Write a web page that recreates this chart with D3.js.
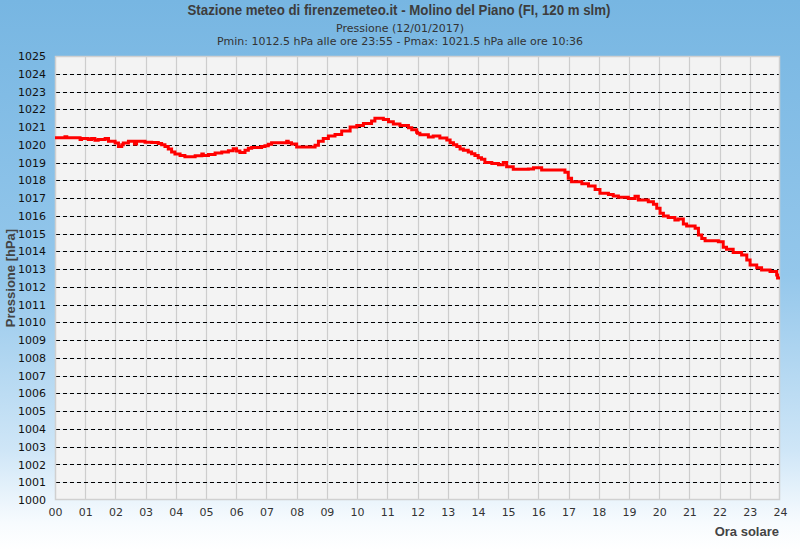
<!DOCTYPE html>
<html><head><meta charset="utf-8">
<script src="https://cdn.jsdelivr.net/npm/d3@7"></script>
<style>
html,body{margin:0;padding:0;background:#fff;}
svg{display:block;}
</style></head>
<body>
<script>
// ---- data ----
const titleText = "Stazione meteo di firenzemeteo.it - Molino del Piano (FI, 120 m slm)";
const subtitleLines = ["Pressione (12/01/2017)", "Pmin: 1012.5 hPa alle ore 23:55 - Pmax: 1021.5 hPa alle ore 10:36"];
const yLabel = "Pressione [hPa]";
const xLabel = "Ora solare";
const xTickLabels = ["00","01","02","03","04","05","06","07","08","09","10","11","12","13","14","15","16","17","18","19","20","21","22","23","24"];
const yTickValues = [1000,1001,1002,1003,1004,1005,1006,1007,1008,1009,1010,1011,1012,1013,1014,1015,1016,1017,1018,1019,1020,1021,1022,1023,1024,1025];
// time of each reading, hours after midnight
const hours = [0.00,0.33,0.39,0.83,0.88,1.10,1.21,1.32,1.43,1.66,1.77,1.99,2.10,2.21,2.26,2.43,2.63,2.70,2.98,3.20,3.42,3.53,3.64,3.75,3.86,3.97,4.14,4.30,4.64,4.86,4.91,5.08,5.30,5.52,5.74,5.90,6.01,6.12,6.29,6.40,6.51,6.84,6.95,7.06,7.17,7.67,7.72,7.83,8.00,8.61,8.72,8.88,9.05,9.27,9.49,9.77,9.99,10.21,10.48,10.59,10.87,11.04,11.20,11.42,11.70,11.81,11.97,12.00,12.08,12.36,12.52,12.74,12.97,13.08,13.19,13.30,13.41,13.52,13.68,13.79,13.90,14.01,14.12,14.23,14.46,14.68,14.84,14.95,15.17,15.67,15.84,16.11,16.88,16.99,17.10,17.44,17.66,17.88,18.04,18.32,18.48,18.65,18.98,19.20,19.31,19.64,19.81,19.92,20.03,20.14,20.30,20.52,20.63,20.80,20.91,21.19,21.30,21.41,21.52,21.96,22.12,22.23,22.45,22.73,22.90,23.01,23.23,23.39,23.67,23.89,23.92,24.00];
// pressure, hPa
const pressure = [1020.40,1020.45,1020.40,1020.30,1020.35,1020.30,1020.35,1020.25,1020.30,1020.35,1020.20,1020.10,1019.90,1020.00,1020.10,1020.20,1020.05,1020.20,1020.15,1020.13,1020.07,1020.00,1019.90,1019.76,1019.60,1019.48,1019.40,1019.33,1019.38,1019.48,1019.40,1019.46,1019.54,1019.60,1019.67,1019.78,1019.65,1019.56,1019.70,1019.80,1019.85,1019.90,1019.95,1020.03,1020.12,1020.20,1020.12,1020.05,1019.87,1019.98,1020.20,1020.36,1020.50,1020.58,1020.78,1021.00,1021.08,1021.20,1021.34,1021.50,1021.42,1021.30,1021.17,1021.08,1020.96,1020.85,1020.70,1020.65,1020.57,1020.44,1020.50,1020.38,1020.27,1020.12,1020.00,1019.90,1019.76,1019.70,1019.60,1019.50,1019.40,1019.27,1019.18,1019.01,1018.95,1018.88,1019.00,1018.77,1018.62,1018.64,1018.71,1018.58,1018.45,1018.11,1017.92,1017.80,1017.68,1017.49,1017.27,1017.20,1017.12,1017.05,1016.97,1017.10,1016.89,1016.80,1016.65,1016.43,1016.14,1015.99,1015.90,1015.77,1015.82,1015.54,1015.43,1015.30,1014.92,1014.73,1014.60,1014.54,1014.23,1014.12,1013.93,1013.80,1013.51,1013.23,1013.08,1012.95,1012.86,1012.67,1012.50,1012.50];

// ---- layout ----
const W = 800, H = 550;
const L = 55, R = 780, T = 56, B = 500;

const svg = d3.select("body").append("svg").attr("width", W).attr("height", H);
const defs = svg.append("defs");
const grad = defs.append("linearGradient").attr("id","bg").attr("x1",0).attr("y1",0).attr("x2",0).attr("y2",1);
[[0,"#77b6e2"],[0.5,"#94c7eb"],[0.82,"#cfe6f7"],[0.95,"#f7fbfe"],[1,"#ffffff"]].forEach(s=>grad.append("stop").attr("offset",s[0]).attr("stop-color",s[1]));
svg.append("rect").attr("width",W).attr("height",H).attr("fill","url(#bg)");

const x = d3.scaleLinear().domain([0,24]).range([L,R]);
const y = d3.scaleLinear().domain([1000,1025]).range([B,T]);

svg.append("rect").attr("x",L).attr("y",T).attr("width",R-L).attr("height",B-T).attr("fill","#f3f3f3");

const g = svg.append("g");
// vertical grid
g.selectAll("line.v").data(d3.range(1,24)).join("line")
  .attr("x1",d=>Math.round(x(d))+0.5).attr("x2",d=>Math.round(x(d))+0.5)
  .attr("y1",T).attr("y2",B).attr("stroke","#cdcdcd").attr("stroke-width",1.2);
// horizontal grid
const hv = yTickValues.filter(v=>v>1000 && v<1025);
g.selectAll("line.hb").data(hv).join("line")
  .attr("x1",L).attr("x2",R).attr("y1",d=>Math.round(y(d))+0.5).attr("y2",d=>Math.round(y(d))+0.5)
  .attr("stroke","#dde7ee").attr("stroke-width",1);
g.selectAll("line.h").data(hv).join("line")
  .attr("x1",L+1).attr("x2",R).attr("y1",d=>Math.round(y(d))+0.5).attr("y2",d=>Math.round(y(d))+0.5)
  .attr("stroke","#000").attr("stroke-width",1.2).attr("stroke-dasharray","4,3");

svg.append("rect").attr("x",L+0.5).attr("y",T+0.5).attr("width",R-L-1).attr("height",B-T-1)
  .attr("fill","none").attr("stroke","#d0d0d0").attr("stroke-width",1.5);

// data line
const pts = hours.map((h,i)=>[h,pressure[i]]);
const line = d3.line().x(d=>x(d[0])).y(d=>y(d[1])).curve(d3.curveStepAfter);
svg.append("path").datum(pts).attr("d",line).attr("fill","none")
  .attr("stroke","#ff0000").attr("stroke-width",3).attr("stroke-linejoin","miter");

// axes
const yAxis = d3.axisLeft(y).tickValues(yTickValues).tickFormat(d3.format("d")).tickSize(0).tickPadding(9);
const ya = svg.append("g").attr("transform",`translate(${L},0)`).call(yAxis);
ya.select(".domain").remove();
ya.selectAll("text").attr("font-family","DejaVu Sans").attr("font-size",11).attr("fill","#111");

const xAxis = d3.axisBottom(x).tickValues(d3.range(0,25)).tickFormat(d=>xTickLabels[d]).tickSize(0).tickPadding(8);
const xa = svg.append("g").attr("transform",`translate(0,${B})`).call(xAxis);
xa.select(".domain").remove();
xa.selectAll("text").attr("font-family","DejaVu Sans").attr("font-size",11).attr("fill","#333");

// titles
svg.append("text").attr("x",399).attr("y",15).attr("text-anchor","middle")
  .attr("font-family","Liberation Sans, Arial, sans-serif").attr("font-weight","bold").attr("font-size",14)
  .attr("textLength",423).attr("lengthAdjust","spacingAndGlyphs")
  .attr("fill","#3d3d3d").text(titleText);
svg.selectAll("text.sub").data(subtitleLines).join("text").attr("class","sub")
  .attr("x",400).attr("y",(d,i)=>32+i*13).attr("text-anchor","middle")
  .attr("font-family","DejaVu Sans").attr("font-size",11).attr("fill","#333").text(d=>d);

svg.append("text").attr("transform",`translate(15,${(T+B)/2}) rotate(-90)`).attr("text-anchor","middle")
  .attr("font-family","Liberation Sans").attr("font-weight","bold").attr("font-size",13)
  .attr("fill","#444").text(yLabel);
svg.append("text").attr("x",779).attr("y",536).attr("text-anchor","end")
  .attr("font-family","Liberation Sans").attr("font-weight","bold").attr("font-size",13)
  .attr("fill","#444").text(xLabel);
</script>
</body></html>
